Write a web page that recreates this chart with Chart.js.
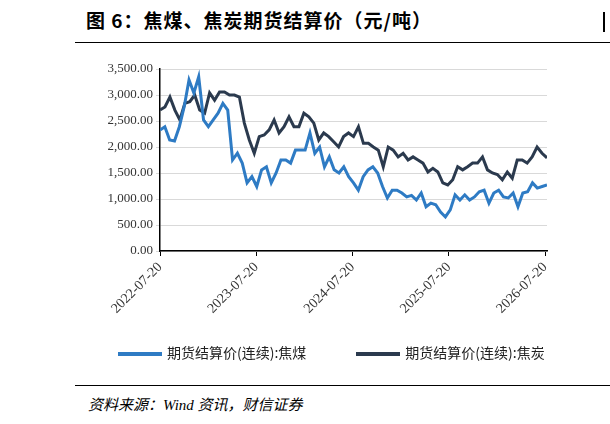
<!DOCTYPE html>
<html><head><meta charset="utf-8">
<script src="https://cdn.jsdelivr.net/npm/chart.js@4/dist/chart.umd.min.js"></script>
<style>
body{margin:0;width:610px;height:424px;background:#fff;position:relative;overflow:hidden;font-family:"Liberation Serif","Noto Sans CJK SC",serif}
#title{position:absolute;left:86px;top:6px;font:bold 19px "Noto Sans CJK SC";color:#000;letter-spacing:1px}
#l1{position:absolute;left:75px;top:42px;width:535px;border-top:1px solid #000}
#l2{position:absolute;left:75px;top:385px;width:535px;border-top:1px solid #000}
#mark{position:absolute;left:603px;top:12px;width:2px;height:20px;background:#000}
#wrap{position:absolute;left:75px;top:45px;width:500px;height:300px}
#legend{position:absolute;top:342px;left:118px;font:14px "Noto Sans CJK SC";color:#222;white-space:nowrap}
#legend span.sw{display:inline-block;width:44px;height:4px;vertical-align:middle;margin-right:5px}
#src{position:absolute;left:88px;top:393px;font:italic 15px "Liberation Serif","Noto Sans CJK SC";color:#000}
</style></head><body>
<div id="title">图 6：焦煤、焦炭期货结算价（元/吨）</div>
<div id="mark"></div>
<div id="l1"></div>
<div id="wrap"><canvas id="c"></canvas></div>
<div id="legend"><span class="sw" style="background:#2e7bc4"></span>期货结算价(连续):焦煤<span style="display:inline-block;width:50px"></span><span class="sw" style="background:#2b3a4e"></span>期货结算价(连续):焦炭</div>
<div id="l2"></div>
<div id="src">资料来源：Wind 资讯，财信证券</div>
<script>
const tickLabels=["2022-07-20","2023-07-20","2024-07-20","2025-07-20","2026-07-20"];
const cokingCoal=[2327,2390,2135,2115,2390,2775,3290,3040,3350,2520,2390,2520,2650,2840,2710,1750,1880,1690,1310,1430,1240,1560,1620,1310,1500,1750,1750,1690,1940,1940,1940,2270,1880,2000,1620,1810,1560,1500,1620,1430,1310,1170,1430,1560,1620,1500,1240,1020,1170,1170,1115,1040,1070,980,1115,850,920,890,750,655,790,1080,980,1080,980,1040,1140,1170,920,1115,1170,1040,1020,1115,850,1115,1140,1310,1210,1240,1270];
const coke=[2710,2770,2960,2710,2520,2840,2870,3000,2710,2650,3040,2900,3060,3060,3000,3000,2960,2460,2135,1880,2200,2230,2330,2520,2270,2390,2580,2390,2390,2650,2580,2460,2135,2270,2200,2100,2000,2200,2270,2200,2390,2070,2070,2000,1940,1620,2000,1940,1810,1880,1750,1810,1750,1690,1520,1590,1520,1310,1270,1370,1620,1560,1620,1690,1690,1810,1560,1500,1470,1370,1520,1400,1750,1750,1690,1810,2000,1880,1790];
const span=4.02;
const pts=a=>a.map((v,i)=>({x:i/(a.length-1)*span,y:v}));
new Chart(document.getElementById('c'),{type:'line',
data:{datasets:[
{label:'期货结算价(连续):焦煤',data:pts(cokingCoal),borderColor:'#2e7bc4',borderWidth:3,pointRadius:0,tension:0},
{label:'期货结算价(连续):焦炭',data:pts(coke),borderColor:'#2b3a4e',borderWidth:3,pointRadius:0,tension:0}]},
options:{animation:false,responsive:true,maintainAspectRatio:false,
layout:{padding:{top:24,right:28,left:0,bottom:0}},
plugins:{legend:{display:false},tooltip:{enabled:false}},
scales:{
x:{type:'linear',min:0,max:span,afterFit:s=>{s.height=94},
 afterBuildTicks:s=>{s.ticks=[0,1,2,3,4].map(v=>({value:v}))},
 ticks:{minRotation:45,maxRotation:45,color:'#333',font:{family:'Liberation Serif',size:14},callback:v=>tickLabels[v]},
 grid:{drawOnChartArea:false,color:'#000',tickLength:5},border:{color:'#000',width:1.5}},
y:{min:0,max:3500,afterFit:s=>{s.width=85},
 ticks:{stepSize:500,color:'#333',font:{family:'Liberation Serif',size:13},callback:v=>v.toFixed(2).replace(/\B(?=(\d{3})+(?!\d))/g,',')},
 grid:{color:'#d9d9d9',tickLength:4},border:{color:'#000',width:1.5}}}}});
</script></body></html>
